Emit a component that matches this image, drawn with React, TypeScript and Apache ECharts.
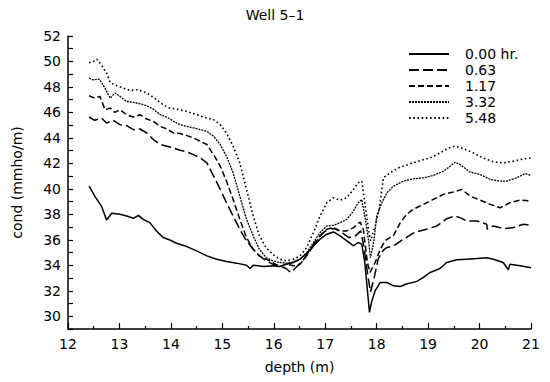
import React, { useEffect, useRef } from "react";
import * as echarts from "echarts";

const titleText = "Well 5–1";
const xAxisName = "depth (m)";
const yAxisName = "cond (mmho/m)";
const seriesNames = ["0.00 hr.", "0.63", "1.17", "3.32", "5.48"];

const depth000 = [12.41,12.52,12.65,12.75,12.85,13.01,13.14,13.27,13.37,13.46,13.59,13.72,13.85,13.98,14.11,14.31,14.5,14.7,14.89,15.08,15.28,15.47,15.54,15.6,15.8,15.99,16.12,16.25,16.38,16.51,16.64,16.77,16.9,17.03,17.16,17.29,17.42,17.55,17.64,17.71,17.77,17.86,17.9,17.97,18.07,18.2,18.33,18.46,18.58,18.78,18.91,19.04,19.23,19.36,19.56,19.75,19.95,20.14,20.27,20.46,20.56,20.59,20.79,21.0];
const cond000 = [40.22,39.43,38.65,37.56,38.08,38.0,37.87,37.69,37.92,37.61,37.35,36.7,36.18,35.99,35.73,35.47,35.13,34.74,34.48,34.3,34.17,34.01,33.75,34.01,33.9,33.96,33.9,34.09,34.22,34.48,34.95,35.52,36.05,36.44,36.62,36.31,35.92,35.52,35.79,35.66,34.22,30.31,31.1,32.0,32.65,32.65,32.39,32.34,32.53,32.74,33.05,33.44,33.75,34.22,34.43,34.48,34.53,34.59,34.48,34.22,33.65,34.09,33.96,33.8];

const depth063 = [12.41,12.52,12.65,12.75,12.88,13.01,13.14,13.27,13.4,13.53,13.66,13.79,13.92,14.05,14.18,14.31,14.44,14.57,14.7,14.83,14.96,15.08,15.21,15.34,15.47,15.6,15.72,15.85,15.98,16.11,16.24,16.33,16.43,16.56,16.69,16.82,16.95,17.08,17.21,17.34,17.46,17.59,17.69,17.75,17.82,17.88,17.95,18.03,18.13,18.2,18.33,18.52,18.71,18.84,18.97,19.17,19.36,19.52,19.62,19.75,19.95,20.14,20.15,20.27,20.46,20.66,20.85,21.0];
const cond063 = [45.64,45.38,45.56,45.17,45.38,45.04,44.96,44.65,44.7,44.39,43.87,43.48,43.35,43.21,43.03,42.9,42.69,42.43,42.04,41.0,39.96,38.91,37.87,36.83,35.92,35.26,34.74,34.35,34.09,33.96,33.75,33.44,33.83,34.35,35.13,35.92,36.52,36.91,36.83,36.52,36.18,36.31,36.7,35.52,33.44,31.9,33.0,34.5,35.2,35.4,35.52,36.05,36.52,36.7,36.83,37.09,37.66,37.87,37.74,37.48,37.48,37.22,36.83,37.09,36.88,36.96,37.22,37.14];

const depth117 = [12.41,12.52,12.62,12.72,12.82,12.91,13.01,13.14,13.27,13.4,13.53,13.66,13.79,13.92,14.05,14.18,14.31,14.44,14.57,14.7,14.83,14.96,15.08,15.21,15.34,15.47,15.6,15.72,15.85,15.98,16.11,16.24,16.38,16.51,16.64,16.77,16.9,17.03,17.16,17.29,17.42,17.55,17.68,17.74,17.82,17.87,17.97,18.07,18.16,18.33,18.46,18.58,18.71,18.91,19.1,19.3,19.49,19.65,19.82,20.01,20.21,20.4,20.59,20.79,21.0];
const cond117 = [47.31,47.12,47.26,46.21,46.34,46.0,46.21,45.82,45.64,45.82,45.48,45.3,44.91,44.7,44.39,44.34,44.18,44.0,43.74,43.48,42.69,41.78,40.61,39.17,37.61,36.18,35.26,34.74,34.48,34.22,33.9,34.09,33.96,34.09,34.74,35.52,36.31,36.83,36.96,36.7,36.7,36.96,37.4,36.83,34.22,33.44,34.22,35.26,35.92,36.36,37.35,38.0,38.39,38.78,39.17,39.57,39.75,39.96,39.43,39.12,38.78,38.52,38.91,39.12,39.04];

const depth332 = [12.41,12.49,12.61,12.72,12.82,12.91,13.01,13.14,13.27,13.4,13.53,13.66,13.79,13.92,14.05,14.18,14.31,14.44,14.57,14.7,14.83,14.96,15.08,15.21,15.34,15.47,15.6,15.72,15.85,15.98,16.11,16.24,16.38,16.51,16.64,16.77,16.9,17.03,17.16,17.29,17.42,17.55,17.64,17.71,17.77,17.84,17.88,17.95,18.0,18.1,18.2,18.33,18.52,18.71,18.91,19.1,19.3,19.43,19.52,19.62,19.82,20.01,20.21,20.4,20.53,20.72,20.89,21.0];
const cond332 = [48.69,48.56,48.61,47.91,47.12,47.52,47.26,46.86,46.79,46.68,46.53,46.26,45.82,45.64,45.3,45.04,44.91,44.78,44.65,44.52,44.13,43.48,42.56,41.26,39.43,37.61,36.31,35.26,34.61,34.35,34.22,34.17,34.27,34.48,35.0,35.78,36.57,37.09,37.14,37.35,37.61,38.26,38.91,39.17,37.87,36.0,34.6,36.0,37.87,38.91,39.7,40.22,40.61,40.79,40.87,41.05,41.39,41.78,42.09,41.91,41.31,41.13,40.74,40.61,40.61,40.87,41.2,41.05];

const depth548 = [12.41,12.49,12.56,12.65,12.75,12.82,12.95,13.08,13.21,13.33,13.46,13.59,13.72,13.85,13.98,14.11,14.31,14.5,14.7,14.83,14.96,15.08,15.21,15.34,15.47,15.6,15.72,15.85,15.98,16.11,16.24,16.38,16.51,16.64,16.77,16.9,17.03,17.16,17.29,17.42,17.55,17.64,17.71,17.77,17.84,17.88,17.97,18.05,18.13,18.26,18.45,18.65,18.84,19.04,19.23,19.43,19.52,19.69,19.88,20.07,20.27,20.46,20.66,20.85,21.0];
const cond548 = [49.91,49.99,50.18,49.73,49.08,48.35,48.09,47.91,47.72,47.78,47.65,47.39,46.99,46.6,46.34,46.26,46.08,45.82,45.56,45.43,45.04,44.39,43.35,42.04,39.96,37.87,36.31,35.39,34.87,34.48,34.35,34.48,34.74,35.39,36.57,37.87,38.91,39.3,39.12,39.3,39.96,40.48,40.61,38.91,36.83,35.92,37.09,38.39,40.87,41.26,41.7,41.96,42.22,42.43,42.82,43.26,43.35,43.16,42.82,42.43,42.12,42.04,42.17,42.35,42.43];

const depths = [depth000, depth063, depth117, depth332, depth548];
const conds = [cond000, cond063, cond117, cond332, cond548];
const dashes: any[] = ["solid", [10, 4], [6, 3], [2, 1], [1.6, 2.6]];
const widths = [1.5, 1.5, 1.5, 1.3, 1.6];

const FONT = "DejaVu Sans";

export default function App() {
  const ref = useRef<HTMLDivElement>(null);
  useEffect(() => {
    const chart = echarts.init(ref.current!, null, { renderer: "svg" });
    const series = seriesNames.map((name, i) => ({
      name,
      type: "line",
      symbol: "none",
      data: depths[i].map((d, j) => [d, conds[i][j]]),
      lineStyle: { color: "#000", width: widths[i], type: dashes[i] },
      itemStyle: { color: "#000" },
    }));
    chart.setOption({
      animation: false,
      backgroundColor: "#fff",
      title: {
        text: titleText,
        left: "center",
        top: 3,
        textStyle: { fontFamily: FONT, fontSize: 14, fontWeight: "normal", color: "#000" },
      },
      legend: {
        orient: "vertical",
        left: 403,
        top: 42,
        itemWidth: 40,
        itemHeight: 14,
        itemGap: 2,
        data: seriesNames,
        itemStyle: { color: "rgba(0,0,0,0)", borderColor: "rgba(0,0,0,0)", borderWidth: 0, opacity: 0 },
        textStyle: { fontFamily: FONT, fontSize: 14, color: "#000", padding: [0, 0, 0, 11] },
      },
      grid: { left: 68, right: 19, top: 36, bottom: 53 },
      xAxis: {
        type: "value",
        min: 12,
        max: 21,
        interval: 1,
        name: xAxisName,
        nameLocation: "middle",
        nameGap: 31,
        nameTextStyle: { fontFamily: FONT, fontSize: 14, color: "#000" },
        axisLine: { lineStyle: { color: "#000", width: 1.5 } },
        axisTick: { inside: true, length: 6, lineStyle: { color: "#000", width: 1.2 } },
        minorTick: { show: true, splitNumber: 2, length: 3, lineStyle: { color: "#000", width: 1.2 } },
        axisLabel: { fontFamily: FONT, fontSize: 14, color: "#000", margin: 8 },
        splitLine: { show: false },
      },
      yAxis: {
        type: "value",
        min: 29,
        max: 52,
        interval: 1,
        name: yAxisName,
        nameLocation: "middle",
        nameGap: 44,
        nameRotate: 90,
        nameTextStyle: { fontFamily: FONT, fontSize: 14, color: "#000" },
        axisLine: { show: true, lineStyle: { color: "#000", width: 1.5 } },
        axisTick: { inside: true, length: 5, lineStyle: { color: "#000", width: 1.2 } },
        axisLabel: {
          fontFamily: FONT,
          fontSize: 14,
          color: "#000",
          margin: 7,
          formatter: (v: number) => (v % 2 === 0 ? String(v) : ""),
        },
        splitLine: { show: false },
      },
      series,
    });
    return () => chart.dispose();
  }, []);
  return (
    <div
      ref={ref}
      style={{ position: "absolute", left: 0, top: 0, width: 550, height: 382, background: "#fff" }}
    />
  );
}
